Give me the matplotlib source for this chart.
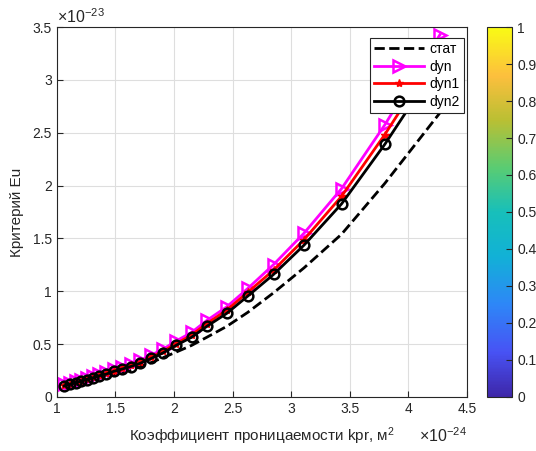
import numpy as np
import matplotlib
matplotlib.use('Agg')
import matplotlib.pyplot as plt
from matplotlib.colors import LinearSegmentedColormap
from matplotlib.ticker import FuncFormatter, MultipleLocator

plt.rcParams['font.family'] = ['Liberation Sans', 'DejaVu Sans']
plt.rcParams['mathtext.fontset'] = 'custom'
plt.rcParams['mathtext.rm'] = 'Liberation Sans'
plt.rcParams['mathtext.it'] = 'Liberation Sans'

# --- data (x in 1e-24 m^2, y in 1e-23) ---
kpr = [1.062, 1.114, 1.162, 1.208, 1.256, 1.308, 1.362, 1.421, 1.484, 1.553,
       1.630, 1.712, 1.806, 1.906, 2.017, 2.15, 2.28, 2.45, 2.63, 2.85,
       3.11, 3.43, 3.80, 4.27]
eu_stat = [0.097, 0.111, 0.123, 0.135, 0.149, 0.162, 0.176, 0.193, 0.210, 0.232,
           0.257, 0.287, 0.325, 0.371, 0.423, 0.487, 0.564, 0.667, 0.800, 0.985,
           1.221, 1.539, 2.021, 2.688]
eu_dyn = [0.118, 0.133, 0.149, 0.164, 0.182, 0.198, 0.219, 0.236, 0.263, 0.285,
          0.313, 0.346, 0.395, 0.451, 0.528, 0.610, 0.723, 0.852, 1.026, 1.252,
          1.549, 1.970, 2.575, 3.427]
eu_dyn1 = [0.108, 0.123, 0.139, 0.154, 0.170, 0.187, 0.207, 0.224, 0.249, 0.271,
           0.298, 0.328, 0.377, 0.431, 0.503, 0.585, 0.693, 0.821, 0.990, 1.200,
           1.488, 1.898, 2.483, 3.293]
eu_dyn2 = [0.103, 0.118, 0.133, 0.149, 0.164, 0.180, 0.200, 0.215, 0.241, 0.262,
           0.287, 0.318, 0.364, 0.416, 0.487, 0.564, 0.667, 0.790, 0.954, 1.159,
           1.436, 1.826, 2.391, 3.181]

cbar_ticks = [0, 0.1, 0.2, 0.3, 0.4, 0.5, 0.6, 0.7, 0.8, 0.9, 1]

# parula-like colormap
parula = LinearSegmentedColormap.from_list('parula', [
    (0.0, (0.2422, 0.1504, 0.6603)),
    (0.12, (0.2810, 0.3228, 0.9579)),
    (0.25, (0.1786, 0.5289, 0.9682)),
    (0.38, (0.0689, 0.6948, 0.8394)),
    (0.5, (0.0900, 0.7500, 0.7300)),
    (0.62, (0.3500, 0.8000, 0.4500)),
    (0.75, (0.7300, 0.7500, 0.2000)),
    (0.87, (0.9900, 0.7500, 0.2400)),
    (1.0, (0.9769, 0.9839, 0.0805)),
])

fig = plt.figure(figsize=(5.36, 4.51), dpi=100)
ax = fig.add_axes([0.106, 0.120, 0.765, 0.820])

ax.plot(kpr, eu_stat, '--', color='black', lw=2, label='стат')
ax.plot(kpr, eu_dyn, '->', color='magenta', lw=2, ms=8.5, mfc='none', mew=1.8, label='dyn')
ax.plot(kpr, eu_dyn1, '-*', color='red', lw=2, ms=6, label='dyn1')
ax.plot(kpr, eu_dyn2, '-o', color='black', lw=2, ms=7, mfc='none', mew=1.8, label='dyn2')

ax.set_xlim(1, 4.5)
ax.set_ylim(0, 3.5)
ax.xaxis.set_major_locator(MultipleLocator(0.5))
ax.yaxis.set_major_locator(MultipleLocator(0.5))
fmt = FuncFormatter(lambda v, p: '%g' % v)
ax.xaxis.set_major_formatter(fmt)
ax.yaxis.set_major_formatter(fmt)
ax.grid(True, color='#dedede', lw=0.8)
ax.set_axisbelow(True)
ax.tick_params(direction='in', length=4, labelsize=10, colors='#262626',
               top=False, right=False)
for s in ax.spines.values():
    s.set_color('#262626')

ax.set_xlabel('Коэффициент проницаемости kpr, м$^2$', fontsize=11, color='#262626', labelpad=7)
ax.set_ylabel('Критерий Eu', fontsize=11, color='#262626', labelpad=6)
ax.text(0.0, 1.003, r'$\times 10^{-23}$', transform=ax.transAxes, fontsize=11.5,
        color='#262626', ha='left', va='bottom')
ax.text(1.0, -0.08, r'$\times 10^{-24}$', transform=ax.transAxes, fontsize=11.5,
        color='#262626', ha='right', va='top')

leg = ax.legend(loc='upper right', bbox_to_anchor=(0.993, 0.970), fontsize=10,
                fancybox=False, framealpha=1, edgecolor='#262626',
                handlelength=3.6, borderpad=0.3, labelspacing=0.25,
                borderaxespad=0, handletextpad=0.4)
leg.get_frame().set_linewidth(0.8)

cax = fig.add_axes([0.909, 0.120, 0.047, 0.820])
sm = plt.cm.ScalarMappable(cmap=parula, norm=plt.Normalize(0, 1))
cb = fig.colorbar(sm, cax=cax, ticks=cbar_ticks)
cb.ax.yaxis.set_major_formatter(fmt)
cb.ax.tick_params(direction='in', length=4, labelsize=10, colors='#262626')
cb.outline.set_edgecolor('#262626')

fig.savefig('out.png', dpi=100)
